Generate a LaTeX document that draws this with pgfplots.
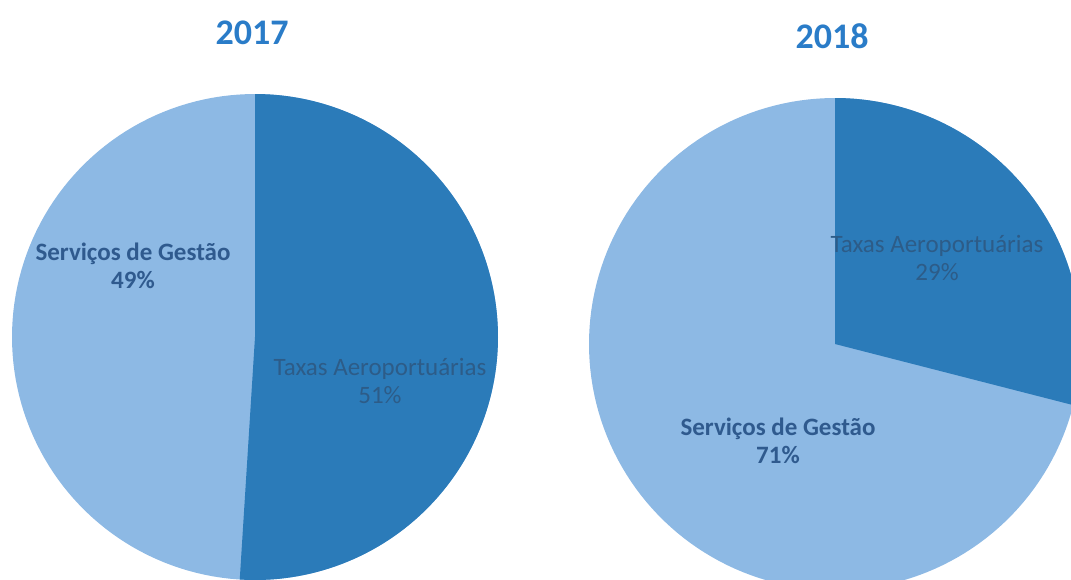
\documentclass[border=0pt]{standalone}
\usepackage{pgfplots}
\pgfplotsset{compat=1.18}
\usepackage{fontspec}
\setmainfont{Carlito}

\definecolor{sliceLight}{HTML}{8DB9E4}
\definecolor{sliceDark}{HTML}{2B7BB9}
\definecolor{titleBlue}{HTML}{2A7CC8}
\definecolor{labelNavy}{HTML}{2F5A8E}
\definecolor{labelDim}{HTML}{2D5C88}

% shares (%) of "Taxas Aeroportuarias"
\def\taxasA{51}
\def\taxasB{29}

\begin{document}
\begin{tikzpicture}
\begin{axis}[
    width=535.5pt, height=289.5pt, scale only axis,
    xmin=0, xmax=1071, ymin=0, ymax=579, y dir=reverse,
    enlargelimits=false, hide axis, clip=true,
    clip bounding box=upper bound,
  ]
  % 2017
  \addplot[fill=sliceLight, draw=none, domain=0:360, samples=181, variable=\t]
    ({255+243*cos(\t)},{337+243*sin(\t)}) -- cycle;
  \addplot[fill=sliceDark, draw=none, domain=-90:{-90+3.6*\taxasA}, samples=120, variable=\t]
    ({255+243*cos(\t)},{337+243*sin(\t)}) -- (axis cs:255,337) -- cycle;
  % 2018
  \addplot[fill=sliceLight, draw=none, domain=0:360, samples=181, variable=\t]
    ({835+246*cos(\t)},{344+246*sin(\t)}) -- cycle;
  \addplot[fill=sliceDark, draw=none, domain=-90:{-90+3.6*\taxasB}, samples=80, variable=\t]
    ({835+246*cos(\t)},{344+246*sin(\t)}) -- (axis cs:835,344) -- cycle;

  \node[font=\bfseries\fontsize{18}{20}\selectfont, text=titleBlue] at (axis cs:252,33) {2017};
  \node[font=\bfseries\fontsize{18}{20}\selectfont, text=titleBlue] at (axis cs:832,36) {2018};

  \node[font=\bfseries\fontsize{12.5}{14}\selectfont, text=labelNavy, align=center] at (axis cs:133,266) {Serviços de Gestão\\49\%};
  \node[font=\fontsize{12.5}{14}\selectfont, text=labelDim, align=center] at (axis cs:380,381) {Taxas Aeroportuárias\\51\%};
  \node[font=\fontsize{12.5}{14}\selectfont, text=labelDim, align=center] at (axis cs:937,258) {Taxas Aeroportuárias\\29\%};
  \node[font=\bfseries\fontsize{12.5}{14}\selectfont, text=labelNavy, align=center] at (axis cs:778,441) {Serviços de Gestão\\71\%};
\end{axis}
\pgfresetboundingbox
\path[use as bounding box] (current axis.south west) rectangle (current axis.north east);
\end{tikzpicture}
\end{document}
